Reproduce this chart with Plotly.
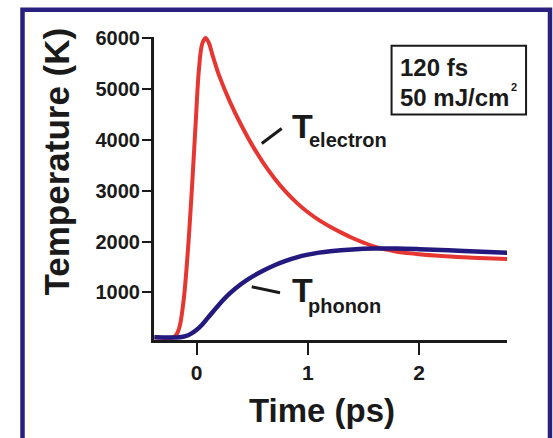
import plotly.graph_objects as go

# Two-temperature model: electron and lattice (phonon) temperatures after a 120 fs pulse
time_electron = [-0.38, -0.2, -0.16, -0.12, -0.08, -0.04, -0.01, 0.02, 0.05, 0.08,
                 0.11, 0.14, 0.17, 0.2, 0.3, 0.4, 0.5, 0.6, 0.7, 0.8, 0.9, 1.0,
                 1.1, 1.2, 1.3, 1.4, 1.5, 1.6, 1.7, 1.8, 2.0, 2.2, 2.4, 2.6, 2.8]
temp_electron = [120, 130, 280, 800, 1800, 3150, 4300, 5380, 5890, 6000,
                 5900, 5680, 5470, 5270, 4740, 4290, 3890, 3540, 3240, 2980, 2760, 2575,
                 2420, 2290, 2175, 2070, 1980, 1900, 1845, 1800, 1750, 1715, 1690, 1670, 1655]

time_phonon = [-0.38, -0.15, -0.1, -0.05, 0.0, 0.05, 0.1, 0.2, 0.3, 0.4, 0.5, 0.6, 0.7,
               0.8, 0.9, 1.0, 1.1, 1.2, 1.4, 1.6, 1.8, 2.0, 2.4, 2.8]
temp_phonon = [120, 120, 140, 190, 265, 370, 500, 760, 985, 1165, 1310, 1430, 1535,
               1620, 1690, 1742, 1782, 1810, 1845, 1862, 1862, 1850, 1815, 1778]

x_ticks = [0, 1, 2]
y_ticks = [1000, 2000, 3000, 4000, 5000, 6000]

FONT = "Arial, Liberation Sans, sans-serif"
INK = "#1a1a1a"
RED = "#e63632"
NAVY = "#23197f"

# a little headroom above 6000 K so the peak stroke is not clipped
Y_RANGE = [65, 6079]

fig = go.Figure()
fig.add_trace(go.Scatter(x=time_electron, y=temp_electron, mode="lines",
                         line=dict(color=RED, width=4, shape="spline", smoothing=1)))
fig.add_trace(go.Scatter(x=time_phonon, y=temp_phonon, mode="lines",
                         line=dict(color=NAVY, width=4.5, shape="spline", smoothing=1)))

fig.update_layout(
    width=553, height=438,
    margin=dict(l=154, r=46, t=34, b=98),
    paper_bgcolor="white", plot_bgcolor="white",
    showlegend=False,
    font=dict(family=FONT, color=INK),
)
fig.update_xaxes(range=[-0.384, 2.79], tickvals=x_ticks, showgrid=False, zeroline=False,
                 showline=True, linewidth=3, linecolor=INK,
                 ticks="outside", ticklen=12, tickwidth=2, tickcolor=INK,
                 tickfont=dict(size=21, family=FONT, color=INK, weight="bold"))
fig.update_yaxes(range=Y_RANGE, tickvals=y_ticks, showgrid=False, zeroline=False,
                 showline=False, linewidth=3, linecolor=INK,
                 ticks="outside", ticklen=11, tickwidth=2, tickcolor=INK,
                 ticklabelstandoff=-2,
                 tickfont=dict(size=20, family=FONT, color=INK, weight="bold"))

bold = lambda s: dict(size=s, family=FONT, color=INK, weight="bold")
ann = []
# axis titles
ann.append(dict(text="Time (ps)", xref="paper", yref="paper", x=0.475, y=-0.232,
                xanchor="center", yanchor="middle", showarrow=False, font=bold(33)))
ann.append(dict(text="Temperature (K)", xref="paper", yref="paper", x=-0.275, y=0.583,
                xanchor="center", yanchor="middle", textangle=-90, showarrow=False,
                font=bold(35)))
# curve labels
ann.append(dict(text="T", xref="x", yref="y", x=0.839, y=4267, xanchor="left",
                yanchor="middle", showarrow=False, font=bold(34)))
ann.append(dict(text="electron", xref="x", yref="y", x=0.99, y=4000, xanchor="left",
                yanchor="middle", showarrow=False, font=bold(20)))
ann.append(dict(text="T", xref="x", yref="y", x=0.839, y=1056, xanchor="left",
                yanchor="middle", showarrow=False, font=bold(34)))
ann.append(dict(text="phonon", xref="x", yref="y", x=0.985, y=740, xanchor="left",
                yanchor="middle", showarrow=False, font=bold(20)))
# pulse parameters box
ann.append(dict(text="120 fs", xref="paper", yref="paper", x=0.69, y=0.892,
                xanchor="left", yanchor="middle", showarrow=False, font=bold(24)))
ann.append(dict(text="50 mJ/cm", xref="paper", yref="paper", x=0.69, y=0.794,
                xanchor="left", yanchor="middle", showarrow=False, font=bold(24)))
ann.append(dict(text="2", xref="paper", yref="paper", x=1.006, y=0.827,
                xanchor="left", yanchor="middle", showarrow=False, font=bold(11)))
fig.update_layout(annotations=ann)

top_frac = (6000 - Y_RANGE[0]) / (Y_RANGE[1] - Y_RANGE[0])
shapes = [
    # vertical axis line, ending at the 6000 K tick
    dict(type="line", xref="paper", yref="paper", x0=-0.0042, x1=-0.0042,
         y0=-0.0098, y1=top_frac + 0.003, line=dict(color=INK, width=3)),
    # leader lines to the labels
    dict(type="line", xref="x", yref="y", x0=0.585, y0=3927, x1=0.764, y1=4222,
         line=dict(color=INK, width=3)),
    dict(type="line", xref="x", yref="y", x0=0.495, y0=1110, x1=0.749, y1=992,
         line=dict(color=INK, width=3)),
    # parameter box
    dict(type="rect", xref="paper", yref="paper", x0=0.673, x1=1.054, y0=0.737, y1=0.962,
         line=dict(color=INK, width=2)),
    # outer frame
    dict(type="rect", xref="paper", yref="paper", x0=-0.3725, x1=1.1218, y0=-0.45, y1=1.0794,
         line=dict(color="#2a2080", width=4.5)),
]
fig.update_layout(shapes=shapes)

fig.write_html("out.html")
